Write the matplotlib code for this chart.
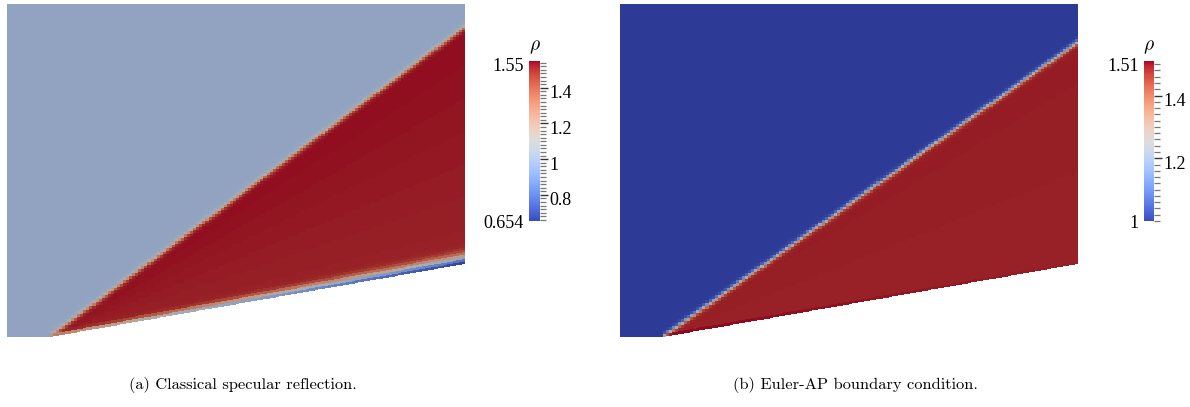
import numpy as np
import matplotlib
matplotlib.use("Agg")
import matplotlib.pyplot as plt
import matplotlib.transforms as mtransforms
from matplotlib.colors import ListedColormap, Normalize
from matplotlib.cm import ScalarMappable

plt.rcParams['mathtext.fontset'] = 'cm'
plt.rcParams['axes.unicode_minus'] = False

# ---------------- data ----------------
wedge_angle_deg = 10.0
x_min, x_max = -0.101, 1.0
y_top = 0.80
panel_captions = ["(a) Classical specular reflection.", "(b) Euler-AP boundary condition."]
shock_angle_deg = [36.7, 35.35]
shock_width = [0.0065, 0.0060]
rho_inf = [1.0, 1.0]
rho_post_upper = [1.54, 1.495]
rho_post_lower = [1.515, 1.49]
rho_wall_start = [1.20, 1.515]
rho_wall_end = [0.654, 1.495]
wall_layer_start = [0.005, 0.006]
wall_layer_end = [0.020, 0.004]
cbar_min = [0.654, 1.0]
cbar_max = [1.55, 1.51]
cbar_major_ticks = [[0.8, 1.0, 1.2, 1.4], [1.2, 1.4]]
cbar_major_labels = [["0.8", "1", "1.2", "1.4"], ["1.2", "1.4"]]
cbar_end_labels = [("1.55", "0.654"), ("1.51", "1")]
nx, ny = 150, 110

# ---------------- figure ----------------
W, H = 1190, 407
fig = plt.figure(figsize=(W / 100, H / 100), dpi=100)

base = plt.get_cmap('coolwarm')
cols = base(np.linspace(0, 1, 256))
cols[:, :3] *= 0.78
field_cmap = ListedColormap(cols)

LABEL_FONT = ['Liberation Serif', 'DejaVu Serif']
LABEL_SIZE = 13

def px_axes(x0, y0, x1, y1):
    return fig.add_axes([x0 / W, 1 - y1 / H, (x1 - x0) / W, (y1 - y0) / H])

tw = np.tan(np.radians(wedge_angle_deg))
xe = np.linspace(x_min, x_max, nx + 1)
eta = np.linspace(0, 1, ny + 1)
yw_e = tw * np.clip(xe, 0, None)
X = np.repeat(xe[None, :], ny + 1, axis=0)
Y = yw_e[None, :] + (y_top - yw_e[None, :]) * eta[:, None]
Xc = 0.25 * (X[:-1, :-1] + X[1:, :-1] + X[:-1, 1:] + X[1:, 1:])
Yc = 0.25 * (Y[:-1, :-1] + Y[1:, :-1] + Y[:-1, 1:] + Y[1:, 1:])

field_boxes = [(7, 4, 465, 337), (620, 4, 1078, 337)]
cbar_boxes = [(529, 61, 540, 221), (1144, 61, 1154, 221)]
caption_x = [243, 855]

for i in range(2):
    ax = px_axes(*field_boxes[i])
    ts = np.tan(np.radians(shock_angle_deg[i]))
    xp = np.clip(Xc, 0, None)
    yw = tw * xp
    ys = np.where(Xc > 0, ts * Xc, -1.0)
    f = 0.5 * (1 - np.tanh((Yc - ys) / shock_width[i]))
    frac = np.clip((Yc - yw) / np.maximum(ys - yw, 1e-6), 0, 1)
    core = rho_post_lower[i] + (rho_post_upper[i] - rho_post_lower[i]) * frac
    rho = rho_inf[i] + (core - rho_inf[i]) * f
    rw = rho_wall_start[i] + (rho_wall_end[i] - rho_wall_start[i]) * np.clip(Xc, 0, 1)
    dl = wall_layer_start[i] + (wall_layer_end[i] - wall_layer_start[i]) * np.clip(Xc, 0, 1)
    g = np.exp(-((Yc - yw) / dl) ** 2) * (Xc > 0)
    rho = rho + (rw - rho) * g * f
    ax.pcolormesh(X, Y, rho, cmap=field_cmap,
                  norm=Normalize(cbar_min[i], cbar_max[i]),
                  shading='flat', edgecolors='none', antialiased=False)
    ax.set_xlim(x_min, x_max)
    ax.set_ylim(0, y_top)
    ax.axis('off')

    # colorbar
    cax = px_axes(*cbar_boxes[i])
    sm = ScalarMappable(norm=Normalize(cbar_min[i], cbar_max[i]), cmap='coolwarm')
    cb = fig.colorbar(sm, cax=cax)
    cb.outline.set_visible(False)
    cax.yaxis.set_ticks_position('right')
    minor = np.arange(np.ceil(cbar_min[i] / 0.02) * 0.02, cbar_max[i], 0.02)
    cax.set_yticks(minor, minor=True)
    cax.set_yticks(cbar_major_ticks[i])
    cax.set_yticklabels(cbar_major_labels[i], fontfamily=LABEL_FONT, fontsize=LABEL_SIZE)
    cax.tick_params(axis='y', which='minor', length=4, width=0.9, color='#777777', direction='out')
    cax.tick_params(axis='y', which='major', length=5.5, width=1.0, color='#333333', direction='out', pad=1)
    shift = mtransforms.ScaledTranslation(0, -4 / 100, fig.dpi_scale_trans)
    for lab in cax.get_yticklabels():
        lab.set_transform(lab.get_transform() + shift)
    x0, y0, x1, y1 = cbar_boxes[i]
    fig.text((x0 - 5) / W, 1 - 66.5 / H, cbar_end_labels[i][0], ha='right', va='center',
             fontfamily=LABEL_FONT, fontsize=LABEL_SIZE)
    fig.text((x0 - 5) / W, 1 - 223 / H, cbar_end_labels[i][1], ha='right', va='center',
             fontfamily=LABEL_FONT, fontsize=LABEL_SIZE)
    fig.text((x0 + x1) / 2 / W, 1 - 47 / H, r'$\rho$', ha='center', va='center', fontsize=14)

    fig.text(caption_x[i] / W, 1 - 385 / H, panel_captions[i], ha='center', va='center',
             fontfamily='cmr10', fontsize=11.8)

fig.savefig('out.png', dpi=100)
